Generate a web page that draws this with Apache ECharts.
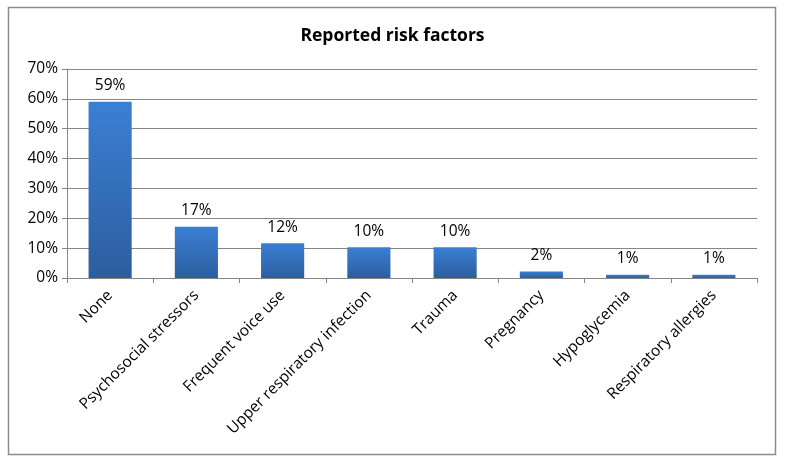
<!DOCTYPE html>
<html><head><meta charset="utf-8">
<script src="https://cdn.jsdelivr.net/npm/echarts@6/dist/echarts.min.js"></script>
<style>html,body{margin:0;padding:0;background:#fff}#c{width:785px;height:464px}</style>
</head><body><div id="c"></div>
<script>
const title = "Reported risk factors";
const categories = ["None","Psychosocial stressors","Frequent voice use","Upper respiratory infection","Trauma","Pregnancy","Hypoglycemia","Respiratory allergies"];
const values = [59, 17.2, 11.6, 10.3, 10.3, 2.2, 1.1, 1.1];
const yTicks = [0,10,20,30,40,50,60,70];
const font = "'Open Sans', 'Noto Sans', sans-serif";
const chart = echarts.init(document.getElementById('c'), null, {renderer:'canvas'});
chart.setOption({
  animation:false,
  backgroundColor:'#fff',
  title:{text:title,left:'center',top:22,textStyle:{fontFamily:font,fontSize:17.5,fontWeight:'bold',color:'#000'}},
  graphic:[{type:'rect',shape:{x:8.5,y:7.5,width:767,height:447},style:{fill:'none',stroke:'#8c8c8c',lineWidth:1.5},silent:true}],
  grid:{left:67,right:28,top:69,bottom:186},
  xAxis:{type:'category',data:categories,
    axisLine:{lineStyle:{color:'#868686'}},
    axisTick:{show:true,length:5,lineStyle:{color:'#868686'}},
    axisLabel:{rotate:45,color:'#000',fontFamily:font,fontSize:15.5,margin:15,interval:0}},
  yAxis:{type:'value',min:0,max:70,interval:10,
    axisLine:{show:true,lineStyle:{color:'#868686'}},
    axisTick:{show:true,length:5,lineStyle:{color:'#868686'}},
    splitLine:{lineStyle:{color:'#868686',width:1}},
    axisLabel:{formatter:v=>v+'%',color:'#000',fontFamily:font,fontSize:15.5,margin:9}},
  series:[{type:'bar',data:values,barWidth:'50%',
    itemStyle:{color:new echarts.graphic.LinearGradient(0,0,0,1,[{offset:0,color:'#3b7fd4'},{offset:1,color:'#2c5e9e'}])},
    label:{show:true,position:'top',distance:8,formatter:p=>Math.round(p.value)+'%',color:'#000',fontFamily:font,fontSize:15.5}}]
});
</script></body></html>
